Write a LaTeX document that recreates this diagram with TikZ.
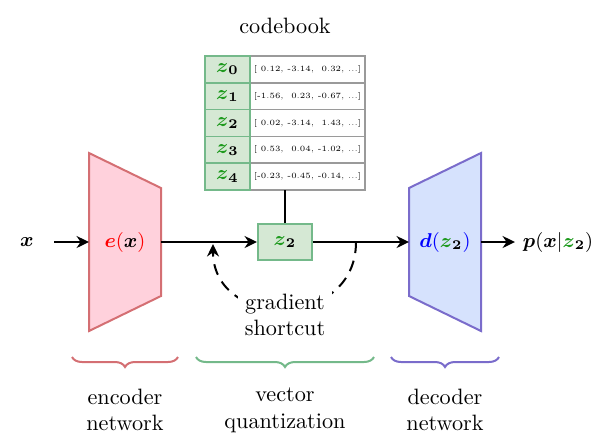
\documentclass[tikz,border=0pt]{standalone}
\usepackage{amsmath,bm}
\usetikzlibrary{arrows.meta,decorations.pathreplacing,calc}
\definecolor{encfill}{HTML}{FFD1DC}
\definecolor{encdraw}{HTML}{D46F73}
\definecolor{vqfill}{HTML}{D5E8D4}
\definecolor{vqdraw}{HTML}{74B98A}
\definecolor{decfill}{HTML}{D6E2FD}
\definecolor{decdraw}{HTML}{7A6CCB}
\definecolor{cbgray}{HTML}{9A9A9A}
\definecolor{zgreen}{HTML}{1E9A1E}
\newcommand{\gz}[1]{{\color{zgreen}\bm{z}}_{\bm{#1}}}
\begin{document}
\begin{tikzpicture}[x=0.45pt,y=-0.45pt,
  flow/.style={line width=0.9pt,-{Stealth[length=5.6pt,width=5.4pt]}},
  lbl/.style={inner sep=1pt,font=\normalsize},
  mlbl/.style={inner sep=1pt,font=\fontsize{8.6}{10}\selectfont},
  cbkey/.style={draw=vqdraw,fill=vqfill,line width=0.8pt,minimum width=45*0.45pt,minimum height=26.8*0.45pt,inner sep=0pt,font=\fontsize{8.6}{10}\selectfont},
  cbval/.style={draw=cbgray,fill=white,line width=0.8pt,minimum width=115*0.45pt,minimum height=26.8*0.45pt,inner sep=0pt,font=\fontsize{3.6}{4}\selectfont},
  brc/.style={decorate,decoration={brace,mirror,amplitude=4.5pt},line width=0.9pt}]
\useasboundingbox (0,0) rectangle (598,447);
% encoder
\draw[fill=encfill,draw=encdraw,line width=0.9pt] (89,153) -- (161,188) -- (161,296) -- (89,331) -- cycle;
\node[mlbl] (enc) at (125,242) {$\color{red}\bm{e}(\color{black}\bm{x}\color{red})$};
% decoder
\draw[fill=decfill,draw=decdraw,line width=0.9pt] (409,188) -- (481,153) -- (481,331) -- (409,296) -- cycle;
\node[mlbl] (dec) at (445,242) {$\color{blue}\bm{d}(\color{black}\gz{2}\color{blue})$};
% input/output
\node[mlbl] (x) at (27,242) {$\bm{x}$};
\node[mlbl] (p) at (558,242) {$\bm{p}(\bm{x}|\gz{2})$};
\coordinate (encL) at (89,242);
\coordinate (encR) at (161,242);
\coordinate (decL) at (409,242);
\coordinate (decR) at (481,242);
\coordinate (xs) at (54,242);
\coordinate (pe) at (515,242);
% z2 box
\node[draw=vqdraw,fill=vqfill,line width=0.9pt,minimum width=54*0.45pt,minimum height=36*0.45pt,inner sep=0pt,font=\fontsize{8.6}{10}\selectfont] (z2) at (285,242) {$\gz{2}$};
% codebook
\foreach \i/\v in {0/{[\ 0.12, -3.14,\ \ 0.32, ...]},1/{[-1.56,\ \ 0.23, -0.67, ...]},2/{[\ 0.02, -3.14,\ \ 1.43, ...]},3/{[\ 0.53,\ \ 0.04, -1.02, ...]},4/{[-0.23, -0.45, -0.14, ...]}}{
  \node[cbval] (v\i) at (307.5,{69.4+26.8*\i}) {\v};
  \node[cbkey] (k\i) at (227.5,{69.4+26.8*\i}) {$\gz{\i}$};
}
\node[lbl] (cb) at (285,26) {codebook};
\coordinate (cbB) at (285,190);
\draw[line width=0.9pt] (z2.north) -- (cbB);
% flows
\draw[flow] (xs) -- (encL);
\draw[flow] (encR) -- (z2.west);
\draw[flow] (z2.east) -- (decL);
\draw[flow] (decR) -- (pe);
% gradient shortcut
\coordinate (gs1) at (356,242);
\coordinate (gs2) at (213,244);
\draw[line width=0.9pt,dash pattern=on 5pt off 3.5pt,-{Stealth[length=5.6pt,width=5.4pt]}] (gs1) .. controls (356,330) and (213,330) .. (gs2);
\node[lbl,fill=white,align=center,inner sep=3pt] (gs) at (285,315) {gradient\\[0pt]shortcut};
% braces
\coordinate (b1a) at (72,357); \coordinate (b1b) at (178,357);
\coordinate (b2a) at (196,357); \coordinate (b2b) at (374,357);
\coordinate (b3a) at (391,357); \coordinate (b3b) at (499,357);
\draw[brc,draw=encdraw] (b1a) -- (b1b);
\draw[brc,draw=vqdraw] (b2a) -- (b2b);
\draw[brc,draw=decdraw] (b3a) -- (b3b);
\node[lbl,align=center] (l1) at (125,410) {encoder\\[0pt]network};
\node[lbl,align=center] (l2) at (285,410) {vector\\[0pt]quantization};
\node[lbl,align=center] (l3) at (445,410) {decoder\\[0pt]network};
\end{tikzpicture}
\end{document}
